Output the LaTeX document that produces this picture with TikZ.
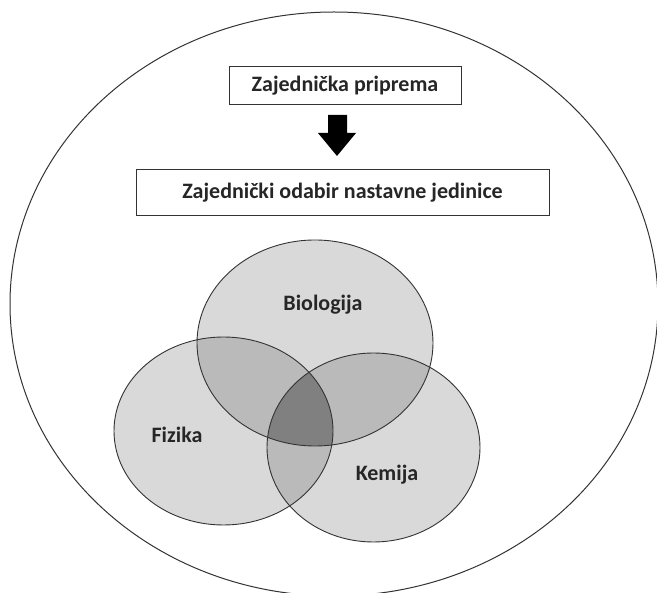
\documentclass[tikz,border=0pt]{standalone}
\usepackage{fontspec}
\setmainfont{Carlito}
\begin{document}
\begin{tikzpicture}[x=1pt,y=-1pt,
  lbl/.style={font=\bfseries\fontsize{22}{26}\selectfont, text=black!85},
  boxed/.style={draw=black!80, line width=1pt, minimum height=38pt, inner sep=0pt},
  ring/.style={draw=black!80, line width=0.9pt}]
\useasboundingbox (0,0) rectangle (657,593);
\fill[white] (0,0) rectangle (657,593);
% outer ellipse
\draw[black!80, line width=1pt] (334,304) ellipse [x radius=324pt, y radius=292pt];
% Venn fills
\def\bio{(315,343) ellipse [x radius=118pt, y radius=103pt]}
\def\fiz{(223.5,431) ellipse [x radius=109.5pt, y radius=94pt]}
\def\kem{(373.5,447.5) ellipse [x radius=106.5pt, y radius=94.5pt]}
\fill[black!15] \bio;
\fill[black!15] \fiz;
\fill[black!15] \kem;
\begin{scope}\clip \bio; \fill[black!27] \fiz; \fill[black!27] \kem; \end{scope}
\begin{scope}\clip \fiz; \fill[black!27] \kem; \end{scope}
\begin{scope}\clip \bio; \clip \fiz; \fill[black!50] \kem; \end{scope}
\draw[ring] \bio;
\draw[ring] \fiz;
\draw[ring] \kem;
% boxes
\node[boxed, minimum width=232pt, lbl] (b1) at (345,86) {Zajednička priprema};
\node[boxed, minimum width=413pt, minimum height=46pt, lbl] (b2) at (342.5,193) {Zajednički odabir nastavne jedinice};
% block arrow
\fill[black] (328,115) -- (347,115) -- (347,133) -- (356,133) -- (337,156) -- (318,133) -- (328,133) -- cycle;
% labels
\node[lbl] (lb) at (323,305) {Biologija};
\node[lbl] (lf) at (177,435) {Fizika};
\node[lbl] (lk) at (387,475) {Kemija};
\end{tikzpicture}
\end{document}
